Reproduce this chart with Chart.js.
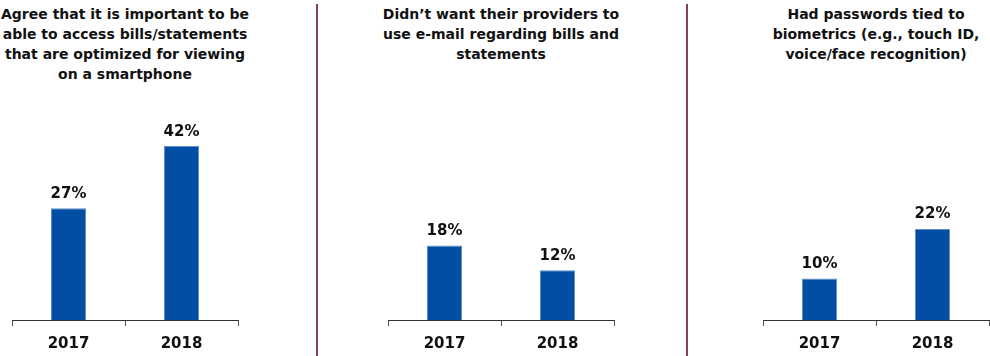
<!DOCTYPE html>
<html lang="en">
<head>
  <meta charset="UTF-8">
  <title>Billing preferences 2017 vs 2018</title>
  <script src="https://cdn.jsdelivr.net/npm/chart.js"></script>
  <style>
    * { box-sizing: border-box; margin: 0; padding: 0; }
    body {
      width: 990px;
      height: 356px;
      background: #fff;
      position: relative;
      overflow: hidden;
      font-family: 'DejaVu Sans', sans-serif;
    }
    .title {
      position: absolute;
      top: 4px;
      width: 260px;
      text-align: center;
      font-weight: bold;
      font-size: 14px;
      line-height: 20px;
      color: #111;
      white-space: pre-line;
    }
    .sep {
      position: absolute;
      top: 4px;
      width: 2px;
      height: 352px;
      background: #8c3b5c;
    }
    canvas {
      position: absolute;
      top: 113px;
    }
  </style>
</head>
<body>
  <div class="title" id="t0" style="left:-5px"></div>
  <div class="title" id="t1" style="left:371px"></div>
  <div class="title" id="t2" style="left:746px"></div>

  <div class="sep" style="left:316px"></div>
  <div class="sep" style="left:686px"></div>

  <canvas id="c0" width="250" height="249" style="left:0px"></canvas>
  <canvas id="c1" width="250" height="249" style="left:376px"></canvas>
  <canvas id="c2" width="239" height="249" style="left:751px"></canvas>

  <script>
    // data
    const years = ['2017', '2018'];
    const titles = [
      'Agree that it is important to be\nable to access bills/statements\nthat are optimized for viewing\non a smartphone',
      'Didn\u2019t want their providers to\nuse e-mail regarding bills and\nstatements',
      'Had passwords tied to\nbiometrics (e.g., touch ID,\nvoice/face recognition)'
    ];
    const smartphoneBills = [27, 42];
    const noEmailBills = [18, 12];
    const biometricPasswords = [10, 22];

    const series = [smartphoneBills, noEmailBills, biometricPasswords];
    const paddings = [
      { left: 12, right: 12 },
      { left: 12, right: 12 },
      { left: 12, right: 1 }
    ];

    // value labels above each bar
    const valueLabels = {
      id: 'valueLabels',
      afterDatasetsDraw(chart) {
        const ctx = chart.ctx;
        const ds = chart.data.datasets[0];
        ctx.save();
        ctx.font = 'bold 15px "DejaVu Sans", sans-serif';
        ctx.fillStyle = '#111';
        ctx.textAlign = 'center';
        ctx.textBaseline = 'bottom';
        chart.getDatasetMeta(0).data.forEach((bar, i) => {
          ctx.fillText(ds.data[i] + '%', bar.x, bar.y - 7);
        });
        ctx.restore();
      }
    };

    series.forEach((values, idx) => {
      document.getElementById('t' + idx).textContent = titles[idx];
      new Chart(document.getElementById('c' + idx), {
        type: 'bar',
        data: {
          labels: years,
          datasets: [{
            data: values,
            backgroundColor: '#034ea2',
            borderColor: '#5f8fcf',
            borderWidth: 1,
            categoryPercentage: 1,
            barPercentage: 0.31
          }]
        },
        options: {
          responsive: false,
          animation: false,
          layout: { padding: { left: paddings[idx].left, right: paddings[idx].right, top: 0, bottom: 0 } },
          plugins: {
            legend: { display: false },
            tooltip: { enabled: false }
          },
          scales: {
            x: {
              grid: {
                offset: true,
                drawOnChartArea: false,
                drawTicks: true,
                tickLength: 6,
                color: '#555'
              },
              border: { display: true, color: '#333', width: 1 },
              ticks: {
                padding: 9,
                color: '#111',
                font: { family: 'DejaVu Sans', size: 15, weight: 'bold' }
              }
            },
            y: {
              display: false,
              min: 0,
              max: 50
            }
          }
        },
        plugins: [valueLabels]
      });
    });
  </script>
</body>
</html>
